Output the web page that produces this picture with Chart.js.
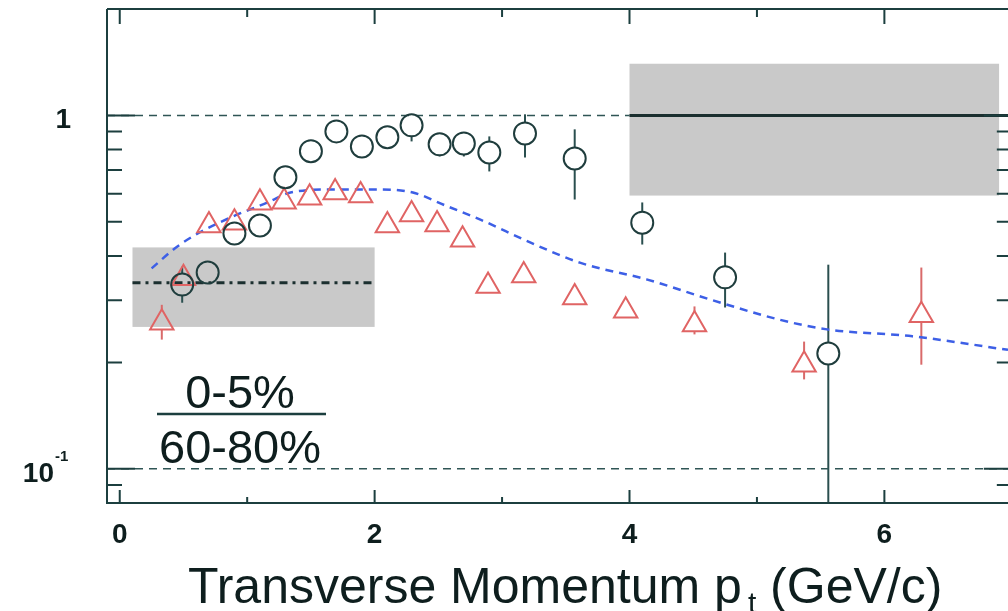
<!DOCTYPE html>
<html>
<head>
<meta charset="utf-8">
<script src="https://cdn.jsdelivr.net/npm/chart.js@4.4.0/dist/chart.umd.min.js"></script>
<style>
  html, body { margin: 0; padding: 0; background: #fff; }
</style>
</head>
<body>
<canvas id="chart" width="1008" height="611"></canvas>
<script>
// 0-5% / 60-80% ratio, open circles
const circleX  = [0.49, 0.69, 0.90, 1.10, 1.30, 1.50, 1.70, 1.90, 2.10, 2.29, 2.51, 2.70, 2.90, 3.18, 3.57, 4.10, 4.75, 5.56];
const circleY  = [0.332, 0.359, 0.463, 0.488, 0.668, 0.792, 0.901, 0.817, 0.867, 0.937, 0.828, 0.833, 0.785, 0.889, 0.755, 0.497, 0.348, 0.212];
const circleLo = [0.295, 0.345, 0.445, 0.470, 0.645, 0.770, 0.875, 0.790, 0.840, 0.844, 0.765, 0.765, 0.694, 0.760, 0.578, 0.431, 0.286, 0.050];
const circleHi = [0.373, 0.373, 0.480, 0.505, 0.690, 0.815, 0.930, 0.845, 0.895, 1.013, 0.884, 0.895, 0.872, 1.007, 0.913, 0.567, 0.409, 0.378];

// open triangles (red)
const triX  = [0.33, 0.50, 0.70, 0.90, 1.10, 1.29, 1.49, 1.69, 1.89, 2.10, 2.29, 2.49, 2.69, 2.89, 3.17, 3.57, 3.97, 4.51, 5.37, 6.29];
const triY  = [0.259, 0.346, 0.488, 0.497, 0.566, 0.570, 0.585, 0.605, 0.593, 0.488, 0.524, 0.491, 0.445, 0.329, 0.352, 0.305, 0.280, 0.256, 0.197, 0.272];
const triLo = [0.232, 0.346, 0.488, 0.497, 0.566, 0.570, 0.585, 0.605, 0.593, 0.488, 0.524, 0.491, 0.445, 0.329, 0.352, 0.305, 0.280, 0.240, 0.179, 0.197];
const triHi = [0.291, 0.346, 0.488, 0.497, 0.566, 0.570, 0.585, 0.605, 0.593, 0.488, 0.524, 0.491, 0.445, 0.329, 0.352, 0.305, 0.280, 0.288, 0.229, 0.371];

// blue dashed curve
const curveX = [0.25, 0.45, 0.63, 0.89, 1.16, 1.34, 1.68, 2.04, 2.30, 2.57, 2.83, 3.22, 3.61, 4.14, 4.65, 5.18, 5.55, 6.22, 6.97];
const curveY = [0.369, 0.425, 0.467, 0.518, 0.567, 0.605, 0.617, 0.617, 0.605, 0.553, 0.507, 0.437, 0.383, 0.343, 0.300, 0.264, 0.248, 0.237, 0.217];

// grey systematic boxes
const boxX0 = [0.1, 4.0];
const boxX1 = [2.0, 6.9];
const boxY0 = [0.252, 0.593];
const boxY1 = [0.423, 1.40];
const ncollLevel = 0.336;   // dash-dot line inside left box

// axes
const xMin = -0.1, xMax = 6.97, yMin = 0.08, yMax = 2.0;
const xMajor = [0, 2, 4, 6];
const xMinor = [1, 3, 5];
const yMajor = [1, 0.1];
const yMinor = [0.09, 0.2, 0.3, 0.4, 0.5, 0.6, 0.7, 0.8, 0.9, 2];

const axisColor = '#1c3f3f';
const textColor = '#0e1e1e';

const pts = (xs, ys) => xs.map((x, i) => ({ x: x, y: ys[i] }));

const errorBars = {
  id: 'errorBars',
  beforeDatasetsDraw(chart) {
    const { ctx, chartArea: a, scales: { x, y } } = chart;
    ctx.save();
    ctx.beginPath();
    ctx.rect(a.left, a.top, a.right - a.left, a.bottom - a.top);
    ctx.clip();

    // grey boxes
    ctx.fillStyle = '#c9c9c9';
    boxX0.forEach((bx, i) => {
      const l = x.getPixelForValue(bx), r = x.getPixelForValue(boxX1[i]);
      const t = y.getPixelForValue(boxY1[i]), b = y.getPixelForValue(boxY0[i]);
      ctx.fillRect(l, t, r - l, b - t);
    });

    const bar = (px, y0, y1) => {
      if (y1 - y0 < 1) return;
      ctx.beginPath();
      ctx.moveTo(px, y0);
      ctx.lineTo(px, y1);
      ctx.stroke();
    };
    ctx.lineWidth = 2;
    ctx.strokeStyle = '#2a4f4f';
    circleX.forEach((cx, i) => {
      const px = x.getPixelForValue(cx), py = y.getPixelForValue(circleY[i]);
      const hi = y.getPixelForValue(circleHi[i]), lo = y.getPixelForValue(circleLo[i]);
      bar(px, hi, py - 11);
      bar(px, py + 11, lo);
    });
    ctx.strokeStyle = '#d96a6a';
    triX.forEach((tx, i) => {
      const px = x.getPixelForValue(tx), py = y.getPixelForValue(triY[i]);
      const hi = y.getPixelForValue(triHi[i]), lo = y.getPixelForValue(triLo[i]);
      bar(px, hi, py - 13);
      bar(px, py + 6.5, lo);
    });
    ctx.restore();
  },
  afterDraw(chart) {
    const { ctx, chartArea: a, scales: { x, y } } = chart;
    ctx.save();
    ctx.strokeStyle = axisColor;
    ctx.lineWidth = 2;
    // frame: left, bottom, top
    ctx.beginPath();
    ctx.moveTo(a.left, a.top);
    ctx.lineTo(a.left, a.bottom);
    ctx.lineTo(a.right, a.bottom);
    ctx.moveTo(a.left, a.top);
    ctx.lineTo(a.right, a.top);
    ctx.stroke();

    ctx.lineWidth = 2;
    ctx.beginPath();
    xMajor.forEach(v => {
      const px = x.getPixelForValue(v);
      ctx.moveTo(px, a.bottom); ctx.lineTo(px, a.bottom - 13);
      ctx.moveTo(px, a.top); ctx.lineTo(px, a.top + 15);
    });
    xMinor.forEach(v => {
      const px = x.getPixelForValue(v);
      ctx.moveTo(px, a.bottom); ctx.lineTo(px, a.bottom - 6);
      ctx.moveTo(px, a.top); ctx.lineTo(px, a.top + 8);
    });
    const rightPx = x.getPixelForValue(7.0);
    yMajor.forEach(v => {
      const py = y.getPixelForValue(v);
      ctx.moveTo(a.left, py); ctx.lineTo(a.left + 28, py);
      ctx.moveTo(rightPx, py); ctx.lineTo(rightPx - 28, py);
    });
    yMinor.forEach(v => {
      const py = y.getPixelForValue(v);
      ctx.moveTo(a.left, py); ctx.lineTo(a.left + 15, py);
      ctx.moveTo(rightPx, py); ctx.lineTo(rightPx - 15, py);
    });
    ctx.stroke();

    // tick labels
    ctx.fillStyle = textColor;
    ctx.font = 'bold 28px "Liberation Sans", Arial, sans-serif';
    ctx.textAlign = 'center';
    ctx.textBaseline = 'alphabetic';
    xMajor.forEach(v => ctx.fillText(String(v), x.getPixelForValue(v), 543));
    ctx.textAlign = 'right';
    ctx.fillText('1', 71, y.getPixelForValue(1) + 13);
    const pTen = y.getPixelForValue(0.1);
    ctx.fillText('10', 54, pTen + 13);
    ctx.textAlign = 'left';
    ctx.font = 'bold 15px "Liberation Sans", Arial, sans-serif';
    ctx.fillText('-1', 55, pTen - 8);

    // axis title with subscript t
    ctx.font = '50px "Liberation Sans", Arial, sans-serif';
    let tx = 188;
    const base = 603;
    const t1 = 'Transverse Momentum p';
    ctx.fillText(t1, tx, base);
    tx += ctx.measureText(t1).width + 6;
    ctx.font = '30px "Liberation Sans", Arial, sans-serif';
    ctx.fillText('t', tx, base + 10);
    tx += ctx.measureText('t').width;
    ctx.font = '50px "Liberation Sans", Arial, sans-serif';
    ctx.fillText(' (GeV/c)', tx, base);

    // centrality fraction
    ctx.font = '47px "Liberation Sans", Arial, sans-serif';
    ctx.textAlign = 'center';
    ctx.fillText('0-5%', 240, 408);
    ctx.fillText('60-80%', 240, 463);
    ctx.lineWidth = 2.5;
    ctx.beginPath();
    ctx.moveTo(157, 414);
    ctx.lineTo(326, 414);
    ctx.stroke();
    ctx.restore();
  }
};

new Chart(document.getElementById('chart'), {
  type: 'scatter',
  data: {
    datasets: [
      {
        label: 'circles',
        data: pts(circleX, circleY),
        pointStyle: 'circle',
        pointRadius: 11,
        pointBorderWidth: 2,
        borderColor: '#1f3d3d',
        backgroundColor: 'rgba(0,0,0,0)'
      },
      {
        label: 'triangles',
        data: pts(triX, triY),
        pointStyle: 'triangle',
        pointRadius: 13.5,
        pointBorderWidth: 2,
        borderColor: '#e06464',
        backgroundColor: 'rgba(0,0,0,0)'
      },
      {
        label: 'model',
        type: 'line',
        data: pts(curveX, curveY),
        borderColor: '#3d5fe6',
        borderWidth: 2.5,
        borderDash: [8, 6],
        pointRadius: 0,
        cubicInterpolationMode: 'monotone',
        fill: false
      },
      {
        label: 'ncoll',
        type: 'line',
        data: [{ x: boxX0[0], y: ncollLevel }, { x: boxX1[0], y: ncollLevel }],
        borderColor: '#1b2f2f',
        borderWidth: 3,
        borderDash: [8, 5, 3, 5],
        pointRadius: 0
      },
      {
        label: 'npart',
        type: 'line',
        data: [{ x: boxX0[1], y: 1 }, { x: 7.2, y: 1 }],
        borderColor: '#1b2f2f',
        borderWidth: 3,
        pointRadius: 0
      },
      {
        label: 'ref1',
        type: 'line',
        data: [{ x: xMin, y: 1 }, { x: boxX0[1], y: 1 }],
        borderColor: '#2f5555',
        borderWidth: 1.5,
        borderDash: [8, 6],
        pointRadius: 0
      },
      {
        label: 'ref01',
        type: 'line',
        data: [{ x: xMin, y: 0.1 }, { x: 7.2, y: 0.1 }],
        borderColor: '#2f5555',
        borderWidth: 1.5,
        borderDash: [8, 6],
        pointRadius: 0
      }
    ]
  },
  options: {
    responsive: false,
    animation: false,
    devicePixelRatio: 1,
    layout: { autoPadding: false, padding: { top: 9, right: 0, left: 0, bottom: 0 } },
    plugins: { legend: { display: false }, tooltip: { enabled: false } },
    scales: {
      x: {
        type: 'linear',
        min: xMin,
        max: xMax,
        grid: { display: false },
        border: { display: false },
        ticks: { display: false },
        afterFit: s => { s.height = 108; }
      },
      y: {
        type: 'logarithmic',
        min: yMin,
        max: yMax,
        grid: { display: false },
        border: { display: false },
        ticks: { display: false },
        afterFit: s => { s.width = 107; }
      }
    }
  },
  plugins: [errorBars]
});
</script>
</body>
</html>
